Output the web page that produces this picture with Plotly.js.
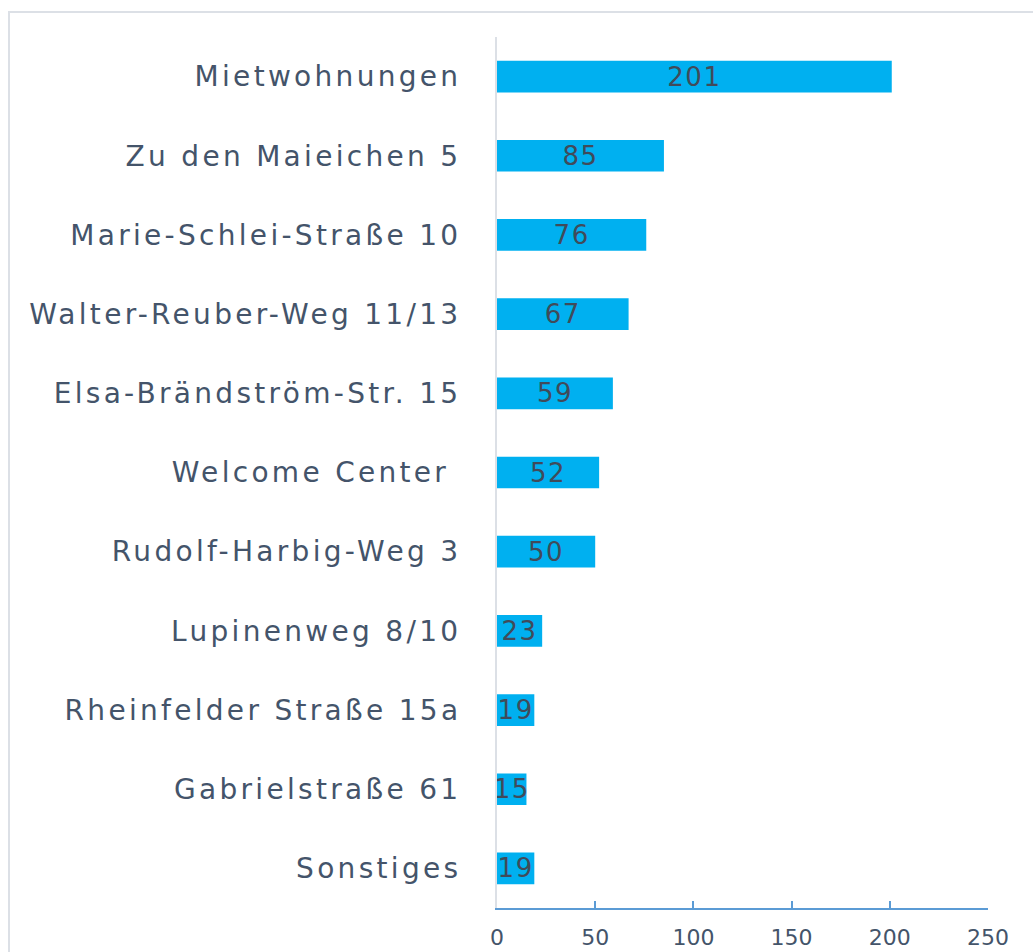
<!DOCTYPE html>
<html>
<head>
<meta charset="utf-8">
<script src="https://cdn.plot.ly/plotly-3.0.1.min.js"></script>
<style>
  html, body { margin: 0; padding: 0; background: #ffffff; overflow: hidden; }
  #frame { position: absolute; left: 8px; top: 11px; width: 1200px; height: 1100px;
           border-left: 2px solid #DCE0E6; border-top: 2px solid #DCE0E6; }
  #chart { position: absolute; left: 0; top: 0; width: 1033px; height: 952px; }
  #chart .ytick text { letter-spacing: 3.3px; }
  #chart .bartext { letter-spacing: 1.5px; }
</style>
</head>
<body>
<div id="frame"></div>
<div id="chart"></div>
<script>
const categories = [
  "Mietwohnungen",
  "Zu den Maieichen 5",
  "Marie-Schlei-Straße 10",
  "Walter-Reuber-Weg 11/13",
  "Elsa-Brändström-Str. 15",
  "Welcome Center ",
  "Rudolf-Harbig-Weg 3",
  "Lupinenweg 8/10",
  "Rheinfelder Straße 15a",
  "Gabrielstraße 61",
  "Sonstiges"
];
const values = [201, 85, 76, 67, 59, 52, 50, 23, 19, 15, 19];
const xTicks = [0, 50, 100, 150, 200, 250];

const trace = {
  type: "bar",
  orientation: "h",
  y: categories,
  x: values,
  text: values.map(String),
  textposition: "inside",
  insidetextanchor: "middle",
  textangle: 0,
  constraintext: "none",
  textfont: { family: "DejaVu Sans", size: 26, color: "#404B5A" },
  marker: { color: "#00B0F0" },
  hoverinfo: "none",
  cliponaxis: false
};

const layout = {
  width: 1033,
  height: 952,
  margin: { l: 497, r: 45, t: 37, b: 44 },
  paper_bgcolor: "rgba(0,0,0,0)",
  plot_bgcolor: "rgba(0,0,0,0)",
  bargap: 0.6,
  showlegend: false,
  xaxis: {
    range: [0, 250],
    tickvals: xTicks,
    ticktext: xTicks.map(String),
    ticks: "inside",
    ticklen: 7,
    tickwidth: 2,
    tickcolor: "#5B9BD5",
    showline: true,
    linecolor: "#5B9BD5",
    linewidth: 2,
    showgrid: false,
    zeroline: false,
    ticklabelstandoff: 9,
    tickfont: { family: "DejaVu Sans", size: 22, color: "#44546A" }
  },
  yaxis: {
    type: "category",
    categoryorder: "array",
    categoryarray: categories,
    range: [10.5, -0.5],
    showline: true,
    linecolor: "#DCE0E6",
    linewidth: 2,
    ticks: "",
    showgrid: false,
    zeroline: false,
    ticklabelstandoff: 28,
    tickfont: { family: "DejaVu Sans", size: 28, color: "#44546A" }
  }
};

Plotly.newPlot("chart", [trace], layout, { displayModeBar: false, staticPlot: true });
</script>
</body>
</html>
